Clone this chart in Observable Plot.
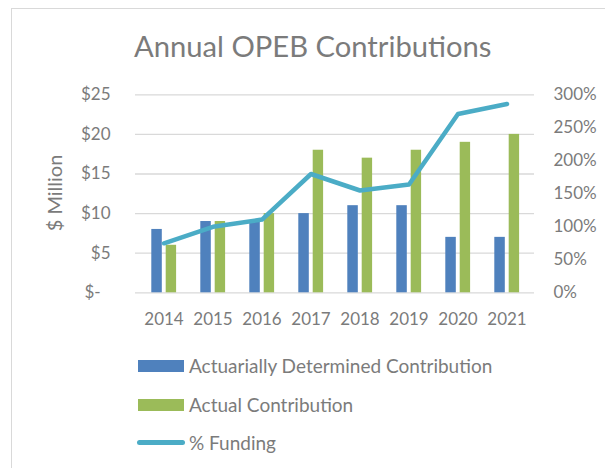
<!DOCTYPE html>
<html>
<head>
<meta charset="utf-8">
<script src="https://cdn.jsdelivr.net/npm/d3@7"></script>
<script src="https://cdn.jsdelivr.net/npm/@observablehq/plot@0.6"></script>
<style>
  html, body { margin: 0; padding: 0; background: #fff; }
  #wrap { position: relative; width: 605px; height: 468px; overflow: hidden; font-family: Lato, sans-serif; color: #7b7b7b; }
  #frame { position: absolute; left: 11px; top: 8px; width: 640px; height: 500px; border-left: 1.5px solid #d9d9d9; border-top: 1.5px solid #d9d9d9; }
  #title { position: absolute; left: 134px; top: 31.5px; font-size: 29.2px; line-height: 28px; white-space: nowrap; }
  #ylab { position: absolute; left: 54px; top: 193px; font-size: 20px; line-height: 20px; white-space: nowrap; transform: translate(-50%, -50%) rotate(-90deg); }
  #chart { position: absolute; left: 0; top: 80px; }
  .sw { position: absolute; left: 138px; width: 46px; height: 12px; }
  .ln { position: absolute; left: 137px; width: 48px; height: 5px; border-radius: 3px; }
  .lt { position: absolute; left: 189px; font-size: 19px; line-height: 20px; white-space: nowrap; }
</style>
</head>
<body>
<div id="wrap">
  <div id="frame"></div>
  <div id="title">Annual OPEB Contributions</div>
  <div id="ylab">$ Million</div>
  <div id="chart"></div>
  <div id="legend"></div>
</div>
<script>
const years = ["2014", "2015", "2016", "2017", "2018", "2019", "2020", "2021"];
const adc = [8, 9, 9, 10, 11, 11, 7, 7];
const actual = [6, 9, 10, 18, 17, 18, 19, 20];
const funding = [75, 100, 111, 180, 155, 164, 271, 286];
const dollarTicks = [0, 5, 10, 15, 20, 25];
const pctTicks = [0, 50, 100, 150, 200, 250, 300];
const seriesNames = ["Actuarially Determined Contribution", "Actual Contribution", "% Funding"];
const colors = ["#4f81bd", "#9bbb59", "#4bacc6"];

const pctToY = 25 / 300;
const rows = years.map((year, i) => ({year, adc: adc[i], actual: actual[i], funding: funding[i]}));

const chart = Plot.plot({
  width: 605,
  height: 260,
  marginTop: 14.3,
  marginBottom: 47.7,
  marginLeft: 135,
  marginRight: 71,
  x: {type: "band", domain: years, padding: 0},
  y: {domain: [0, 25]},
  style: {fontFamily: "Lato, sans-serif", fontSize: "17px", color: "#7b7b7b", background: "transparent", overflow: "visible"},
  marks: [
    Plot.gridY(dollarTicks, {stroke: "#d9d9d9", strokeOpacity: 1, strokeWidth: 1.3}),
    Plot.axisY({ticks: dollarTicks, tickSize: 0, tickPadding: 25, label: null,
      tickFormat: d => d === 0 ? "$-\u2007" : "$" + d}),
    Plot.axisY({anchor: "right", ticks: pctTicks.map(p => p * pctToY), tickSize: 0, tickPadding: 19, label: null,
      tickFormat: v => Math.round(v / pctToY) + "%"}),
    Plot.axisX({tickSize: 0, tickPadding: 20, label: null}),
    Plot.barY(rows, {x: "year", y: "adc", fill: colors[0], insetLeft: 12.3, insetRight: 26.2}),
    Plot.barY(rows, {x: "year", y: "actual", fill: colors[1], insetLeft: 26.7, insetRight: 11.9}),
    Plot.lineY(rows, {x: "year", y: d => d.funding * pctToY, stroke: colors[2], strokeWidth: 4.5, strokeLinecap: "round", strokeLinejoin: "round"})
  ]
});
document.getElementById("chart").appendChild(chart);

const legend = document.getElementById("legend");
const rowCenters = [366, 405, 443];
seriesNames.forEach((name, i) => {
  const sw = document.createElement("div");
  if (i < 2) {
    sw.className = "sw";
    sw.style.top = (rowCenters[i] - 6) + "px";
  } else {
    sw.className = "ln";
    sw.style.top = (rowCenters[i] - 3) + "px";
  }
  sw.style.background = colors[i];
  legend.appendChild(sw);
  const t = document.createElement("div");
  t.className = "lt";
  t.style.top = (rowCenters[i] - 10.5) + "px";
  t.textContent = name;
  legend.appendChild(t);
});
</script>
</body>
</html>
